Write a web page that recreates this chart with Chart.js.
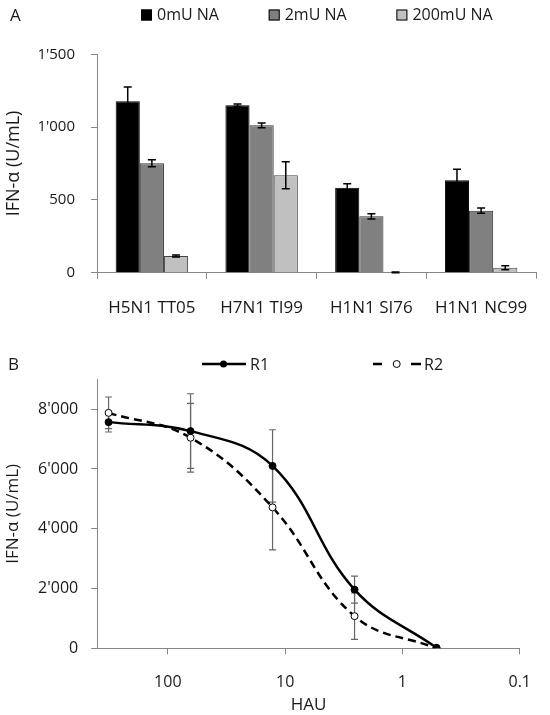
<!DOCTYPE html>
<html>
<head>
<meta charset="utf-8">
<script src="https://cdn.jsdelivr.net/npm/chart.js@4.4.1/dist/chart.umd.min.js"></script>
<style>
  body { margin: 0; background: #fff; }
  #wrap { position: relative; width: 550px; height: 715px; }
  #chartA { position: absolute; left: 0; top: 0; }
  #chartB { position: absolute; left: 0; top: 330px; }
</style>
</head>
<body>
<div id="wrap">
  <canvas id="chartA" width="550" height="330"></canvas>
  <canvas id="chartB" width="550" height="385"></canvas>
</div>
<script>
// -- DATA (panel A)
const strains = ["H5N1 TT05", "H7N1 TI99", "H1N1 SI76", "H1N1 NC99"];
const naLabels = ["0mU NA", "2mU NA", "200mU NA"];
const na0 = [1178, 1150, 584, 635];
const na0Err = [98, 8, 27, 75];
const na2 = [751, 1012, 387, 426];
const na2Err = [24, 17, 18, 18];
const na200 = [115, 669, 2, 34];
const na200Err = [7, 93, 2, 14];
const yTicksA = [0, 500, 1000, 1500];

// -- DATA (panel B)
const hau = [320, 64, 12.8, 2.56, 0.512];
const r1 = [7567, 7267, 6102, 1964, 15];
const r1Err = [330, 1250, 1210, 453, 0];
const r2 = [7877, 7045, 4714, 1075, 0];
const r2Err = [530, 1150, 1418, 775, 0];
const xTicksB = [100, 10, 1, 0.1];
const yTicksB = [0, 2000, 4000, 6000, 8000];

const FONT = "'Open Sans', sans-serif";
const TEXT = "#1a1a1a";
const AXIS = "#868686";
Chart.defaults.font.family = FONT;
Chart.defaults.color = TEXT;

const fmt = v => String(v).replace(/\B(?=(\d{3})+(?!\d))/g, "'");

// error bars on top of the bars
const barErrors = {
    id: "barErrors",
    afterDatasetsDraw(chart) {
        const ctx = chart.ctx;
        const y = chart.scales.y;
        ctx.save();
        ctx.strokeStyle = "#000";
        ctx.lineWidth = 1.5;
        chart.data.datasets.forEach((ds, i) => {
            chart.getDatasetMeta(i).data.forEach((bar, j) => {
                const top = y.getPixelForValue(ds.data[j] + ds.err[j]);
                const bot = y.getPixelForValue(Math.max(0, ds.data[j] - ds.err[j]));
                ctx.beginPath();
                ctx.moveTo(bar.x, top); ctx.lineTo(bar.x, bot);
                ctx.moveTo(bar.x - 4, top); ctx.lineTo(bar.x + 4, top);
                ctx.moveTo(bar.x - 4, bot); ctx.lineTo(bar.x + 4, bot);
                ctx.stroke();
            });
        });
        ctx.restore();
    }
};

const legendA = {
    id: "legendA",
    afterDraw(chart) {
        const ctx = chart.ctx;
        ctx.save();
        ctx.textBaseline = "middle";
        ctx.fillStyle = TEXT;
        ctx.font = "17px " + FONT;
        ctx.fillText("A", 10, 16);
        ctx.font = "16px " + FONT;
        chart.data.datasets.forEach((ds, i) => {
            const x = 141 + i * 127.7;
            ctx.fillStyle = ds.backgroundColor;
            ctx.fillRect(x, 9.5, 11, 11);
            ctx.strokeStyle = "#000";
            ctx.lineWidth = 1;
            ctx.strokeRect(x + 0.5, 10, 10, 10);
            ctx.fillStyle = TEXT;
            ctx.fillText(ds.label, x + 16, 15.5);
        });
        ctx.restore();
    }
};

// error bars behind the lines
const lineErrors = {
    id: "lineErrors",
    beforeDatasetsDraw(chart) {
        const ctx = chart.ctx;
        const x = chart.scales.x, y = chart.scales.y;
        ctx.save();
        ctx.strokeStyle = "#666";
        ctx.lineWidth = 1.2;
        chart.data.datasets.forEach(ds => {
            ds.data.forEach((p, j) => {
                if (!ds.err[j]) return;
                const px = x.getPixelForValue(p.x);
                const top = y.getPixelForValue(p.y + ds.err[j]);
                const bot = y.getPixelForValue(p.y - ds.err[j]);
                ctx.beginPath();
                ctx.moveTo(px, top); ctx.lineTo(px, bot);
                ctx.moveTo(px - 3.5, top); ctx.lineTo(px + 3.5, top);
                ctx.moveTo(px - 3.5, bot); ctx.lineTo(px + 3.5, bot);
                ctx.stroke();
            });
        });
        ctx.restore();
    }
};

const legendB = {
    id: "legendB",
    afterDraw(chart) {
        const ctx = chart.ctx;
        const ly = 34;
        ctx.save();
        ctx.textBaseline = "middle";
        ctx.fillStyle = TEXT;
        ctx.font = "17px " + FONT;
        ctx.fillText("B", 8, 35);
        ctx.strokeStyle = "#000";
        ctx.lineWidth = 2.5;
        ctx.beginPath();
        ctx.moveTo(202, ly); ctx.lineTo(246, ly);
        ctx.stroke();
        ctx.beginPath();
        ctx.arc(223.5, ly, 3.5, 0, 2 * Math.PI);
        ctx.fillStyle = "#000";
        ctx.fill();
        ctx.beginPath();
        ctx.moveTo(373, ly); ctx.lineTo(382, ly);
        ctx.moveTo(411, ly); ctx.lineTo(421, ly);
        ctx.stroke();
        ctx.beginPath();
        ctx.arc(396.7, ly, 3.5, 0, 2 * Math.PI);
        ctx.fillStyle = "#fff";
        ctx.fill();
        ctx.lineWidth = 1;
        ctx.stroke();
        ctx.fillStyle = TEXT;
        ctx.font = "16px " + FONT;
        ctx.fillText("R1", 250, ly + 1);
        ctx.fillText("R2", 424, ly + 1);
        ctx.restore();
    }
};

// -- PANEL A
new Chart(document.getElementById("chartA"), {
    type: "bar",
    data: {
        labels: strains,
        datasets: [
            { label: naLabels[0], data: na0, err: na0Err, backgroundColor: "#000000", borderColor: "#000000" },
            { label: naLabels[1], data: na2, err: na2Err, backgroundColor: "#808080", borderColor: "#333333" },
            { label: naLabels[2], data: na200, err: na200Err, backgroundColor: "#c0c0c0", borderColor: "#444444" }
        ]
    },
    options: {
        responsive: false,
        animation: false,
        layout: { padding: { left: 0, right: 14, top: 54.3, bottom: 0 } },
        datasets: { bar: { categoryPercentage: 0.66, barPercentage: 1, borderWidth: 1 } },
        plugins: { legend: { display: false }, tooltip: { enabled: false } },
        scales: {
            x: {
                grid: { drawOnChartArea: false, color: AXIS, tickLength: 6, offset: true },
                border: { color: AXIS },
                ticks: { font: { size: 17 }, color: TEXT, padding: 19 },
                afterFit: s => { s.height = 57.3; }
            },
            y: {
                min: 0,
                max: 1500,
                afterBuildTicks: s => { s.ticks = yTicksA.map(v => ({ value: v })); },
                grid: { drawOnChartArea: false, color: AXIS, tickLength: 6 },
                border: { color: AXIS },
                ticks: { font: { size: 15 }, color: TEXT, padding: 16, callback: v => fmt(v) },
                title: { display: true, text: "IFN-α (U/mL)", font: { size: 18 }, color: TEXT, padding: { top: 3, bottom: 0 } },
                afterFit: s => { s.width = 97; }
            }
        }
    },
    plugins: [barErrors, legendA]
});

// -- PANEL B
new Chart(document.getElementById("chartB"), {
    type: "scatter",
    data: {
        datasets: [
            {
                label: "R1",
                data: hau.map((x, i) => ({ x: x, y: r1[i] })),
                err: r1Err,
                showLine: true,
                borderColor: "#000",
                borderWidth: 2.5,
                tension: 0.4,
                pointRadius: 3.5,
                pointBackgroundColor: "#000",
                pointBorderColor: "#000",
                pointBorderWidth: 1
            },
            {
                label: "R2",
                data: hau.map((x, i) => ({ x: x, y: r2[i] })),
                err: r2Err,
                showLine: true,
                borderColor: "#000",
                borderWidth: 2.5,
                borderDash: [8, 5],
                tension: 0.4,
                pointRadius: 3.5,
                pointBackgroundColor: "#fff",
                pointBorderColor: "#000",
                pointBorderWidth: 1
            }
        ]
    },
    options: {
        responsive: false,
        animation: false,
        layout: { padding: { left: 0, right: 17.4, top: 49.3, bottom: 0 } },
        plugins: { legend: { display: false }, tooltip: { enabled: false } },
        scales: {
            x: {
                type: "logarithmic",
                reverse: true,
                min: 0.1,
                max: 400,
                afterBuildTicks: s => { s.ticks = xTicksB.map(v => ({ value: v })); },
                grid: { drawOnChartArea: false, color: AXIS, tickLength: 6 },
                border: { color: AXIS },
                ticks: { font: { size: 16 }, color: TEXT, padding: 19, callback: v => String(v) },
                title: { display: true, text: "HAU", font: { size: 17 }, color: TEXT, padding: { top: 0, bottom: 0 } },
                afterFit: s => { s.height = 66.7; }
            },
            y: {
                min: 0,
                max: 9000,
                afterBuildTicks: s => { s.ticks = yTicksB.map(v => ({ value: v })); },
                grid: { drawOnChartArea: false, color: AXIS, tickLength: 6 },
                border: { color: AXIS },
                ticks: { font: { size: 16 }, color: TEXT, padding: 13, callback: v => fmt(v) },
                title: { display: true, text: "IFN-α (U/mL)", font: { size: 17 }, color: TEXT, padding: { top: 3, bottom: 0 } },
                afterFit: s => { s.width = 97.2; }
            }
        }
    },
    plugins: [lineErrors, legendB]
});
</script>
</body>
</html>
